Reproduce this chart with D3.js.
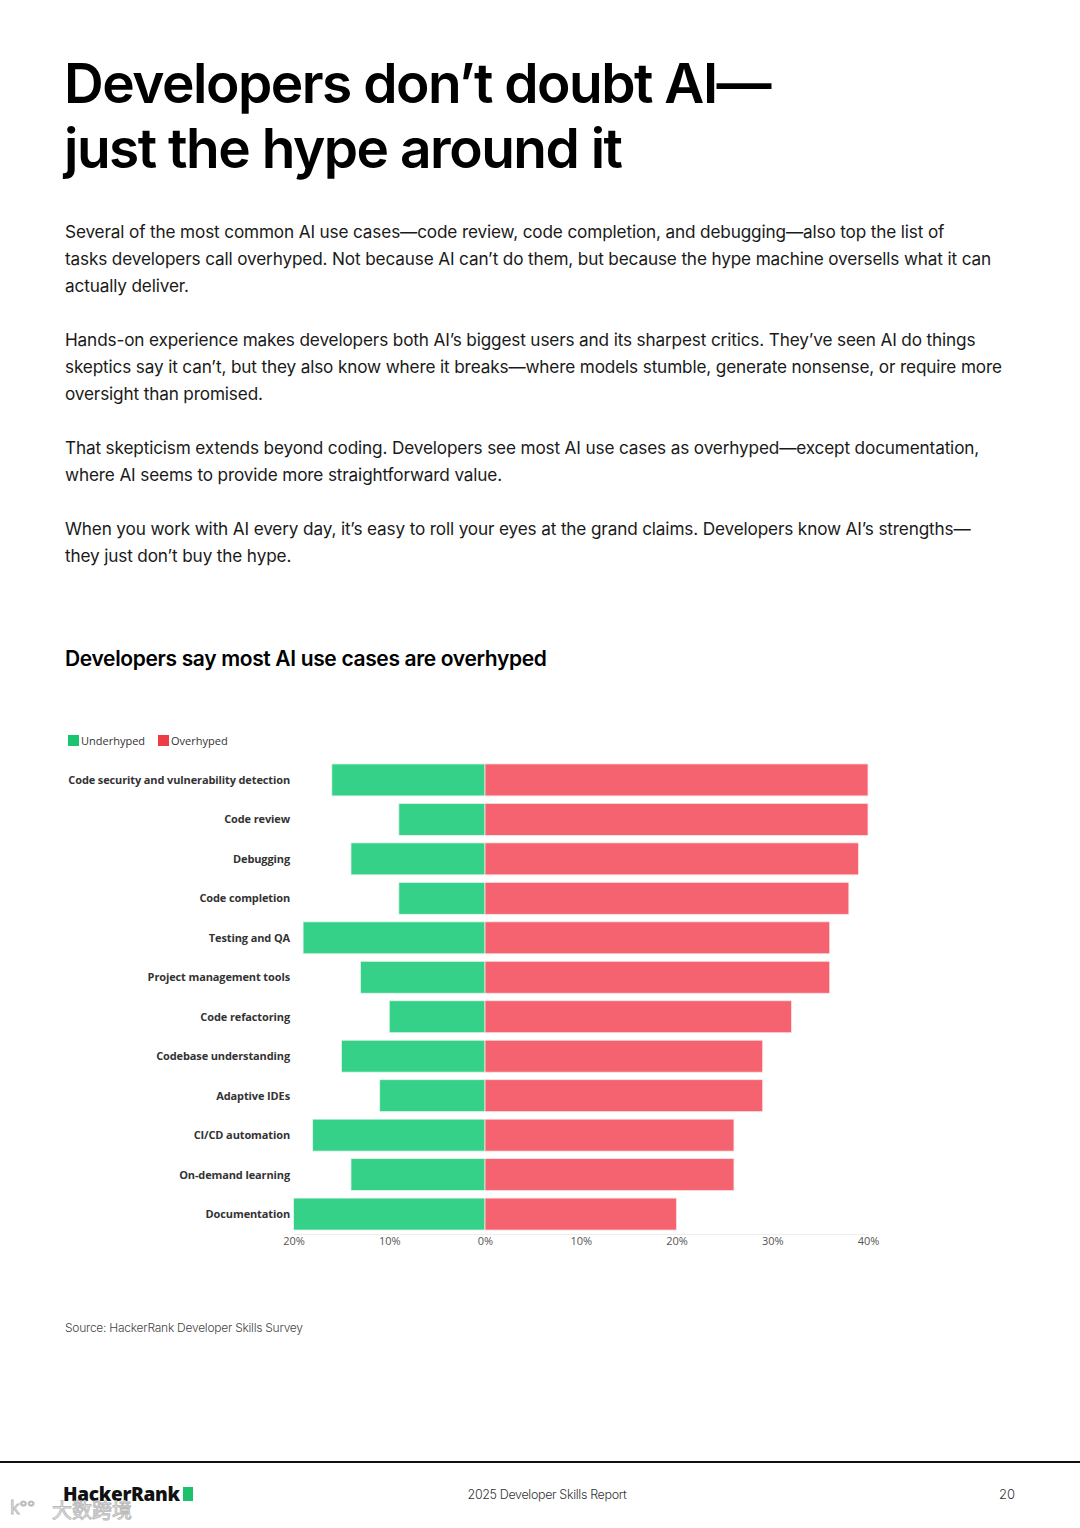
<!DOCTYPE html>
<html><head><meta charset="utf-8">
<script src="https://cdn.jsdelivr.net/npm/d3@7"></script>
<style>
html,body{margin:0;padding:0;background:#fff;}
svg{display:block;}
</style></head>
<body>
<svg id="c" width="1080" height="1528"></svg>
<script>
const categories = ["Code security and vulnerability detection","Code review","Debugging","Code completion","Testing and QA","Project management tools","Code refactoring","Codebase understanding","Adaptive IDEs","CI/CD automation","On-demand learning","Documentation"];
const underhyped = [16,9,14,9,19,13,10,15,11,18,14,20];
const overhyped = [40,40,39,38,36,36,32,29,29,26,26,20];
const tickValues = [-20,-10,0,10,20,30,40];
const seriesNames = ["Underhyped","Overhyped"];
const colors = ["#36d189","#f4636f"];

const svg = d3.select("#c");
const body = "Inter, 'Noto Sans', sans-serif";

// Title
const title = svg.append("text").attr("font-family", body).attr("font-weight", 600)
  .attr("font-size", 55).attr("letter-spacing", -1.5).attr("fill", "#000");
title.append("tspan").attr("x", 64).attr("y", 103).text("Developers don\u2019t doubt AI\u2014");
title.append("tspan").attr("x", 64).attr("y", 168).text("just the hype around it");

// Body paragraphs
const paras = [
  ["Several of the most common AI use cases\u2014code review, code completion, and debugging\u2014also top the list of",
   "tasks developers call overhyped. Not because AI can\u2019t do them, but because the hype machine oversells what it can",
   "actually deliver."],
  ["Hands-on experience makes developers both AI\u2019s biggest users and its sharpest critics. They\u2019ve seen AI do things",
   "skeptics say it can\u2019t, but they also know where it breaks\u2014where models stumble, generate nonsense, or require more",
   "oversight than promised."],
  ["That skepticism extends beyond coding. Developers see most AI use cases as overhyped\u2014except documentation,",
   "where AI seems to provide more straightforward value."],
  ["When you work with AI every day, it\u2019s easy to roll your eyes at the grand claims. Developers know AI\u2019s strengths\u2014",
   "they just don\u2019t buy the hype."]
];
const paraY = [238, 346, 454, 535];
paras.forEach((p, i) => {
  const t = svg.append("text").attr("font-family", body).attr("font-size", 17.2)
    .attr("fill", "#1a1a1a").attr("letter-spacing", -0.15);
  p.forEach((line, j) => t.append("tspan").attr("x", 65).attr("y", paraY[i] + j * 27).text(line));
});

// Chart subtitle
svg.append("text").attr("x", 65).attr("y", 666).attr("font-family", body).attr("font-weight", 600)
  .attr("font-size", 21).attr("letter-spacing", -0.35).attr("fill", "#000")
  .text("Developers say most AI use cases are overhyped");

// Legend
const lab = "'Open Sans', 'Noto Sans', sans-serif";
const legX = [68, 158];
seriesNames.forEach((n, i) => {
  svg.append("rect").attr("x", legX[i]).attr("y", 735).attr("width", 11).attr("height", 11).attr("fill", i === 0 ? "#19c46e" : "#ee3b48");
  svg.append("text").attr("x", legX[i] + 13).attr("y", 745).attr("font-family", lab).attr("font-size", 11)
    .attr("fill", "#333").text(n);
});

// Scales
const x = d3.scaleLinear().domain([-20, 40]).range([293.5, 868]);
const y = d3.scaleBand().domain(categories).range([760, 1234]).paddingInner(0.19).paddingOuter(0.1);

const g = svg.append("g");
categories.forEach((c, i) => {
  g.append("rect").attr("x", x(-underhyped[i])).attr("y", y(c)).attr("width", x(0) - x(-underhyped[i]))
    .attr("height", y.bandwidth()).attr("fill", colors[0]).attr("stroke", "#e6f7ee").attr("stroke-width", 0.8);
  g.append("rect").attr("x", x(0)).attr("y", y(c)).attr("width", x(overhyped[i]) - x(0))
    .attr("height", y.bandwidth()).attr("fill", colors[1]).attr("stroke", "#fbe3e5").attr("stroke-width", 0.8);
  g.append("text").attr("x", 290).attr("y", y(c) + y.bandwidth() / 2 + 4).attr("text-anchor", "end")
    .attr("font-family", lab).attr("font-weight", 700).attr("font-size", 11).attr("letter-spacing", -0.12)
    .attr("fill", "#333").text(c);
});

// Axis
const axis = svg.append("g").attr("transform", "translate(0,1234)")
  .call(d3.axisBottom(x).tickValues(tickValues).tickSize(0).tickPadding(3).tickFormat(d => Math.abs(d) + "%"));
axis.select(".domain").attr("stroke", "#eeeeee");
axis.selectAll("text").attr("font-family", lab).attr("font-size", 11).attr("fill", "#555");

// Source
svg.append("text").attr("x", 65).attr("y", 1332).attr("font-family", body).attr("font-weight", 300)
  .attr("font-size", 12).attr("letter-spacing", -0.25).attr("fill", "#444").text("Source: HackerRank Developer Skills Survey");

// Footer
svg.append("rect").attr("x", 0).attr("y", 1461).attr("width", 1080).attr("height", 2).attr("fill", "#111");
svg.append("text").attr("x", 63).attr("y", 1501).attr("font-family", lab).attr("font-weight", 800)
  .attr("font-size", 19).attr("fill", "#111").attr("letter-spacing", -0.3).text("HackerRank");
svg.append("rect").attr("x", 183).attr("y", 1487).attr("width", 10).attr("height", 14).attr("fill", "#1dc16b");
svg.append("text").attr("x", 547).attr("y", 1499).attr("text-anchor", "middle").attr("font-family", body)
  .attr("font-weight", 300).attr("font-size", 12.5).attr("letter-spacing", -0.35).attr("fill", "#333").text("2025 Developer Skills Report");
svg.append("text").attr("x", 1007).attr("y", 1499).attr("text-anchor", "middle").attr("font-family", body)
  .attr("font-weight", 300).attr("font-size", 13).attr("fill", "#333").text("20");
// watermark
svg.append("text").attr("x", 52).attr("y", 1518).attr("font-family", "'Noto Sans CJK SC', sans-serif")
  .attr("font-size", 20).attr("fill", "#fff").attr("fill-opacity", 0.6).attr("stroke", "#bbb").attr("stroke-width", 1).text("大数跨境");
svg.append("text").attr("x", 10).attr("y", 1514).attr("font-family", lab)
  .attr("font-size", 18).attr("fill", "#fff").attr("stroke", "#bbb").attr("stroke-width", 1).text("k°°");
</script>
</body></html>
